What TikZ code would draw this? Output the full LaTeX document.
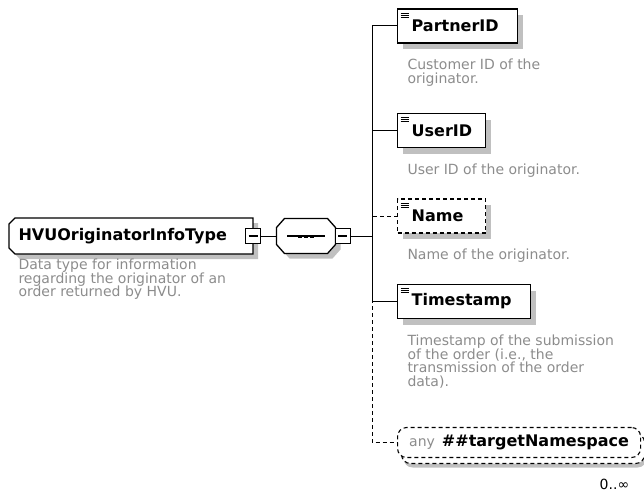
\documentclass[tikz,border=0pt]{standalone}
\usepackage{fontspec}
\setmainfont{DejaVu Sans}
\usepackage{tikz}
\usetikzlibrary{shadows,backgrounds}
\definecolor{desc}{RGB}{140,140,140}
\definecolor{shadowgray}{RGB}{192,192,192}

\begin{document}
\begin{tikzpicture}[x=1pt,y=-1pt,line width=1pt,
                    ddash/.style={dash pattern=on 4pt off 3pt},
                    boxshadow/.style={drop shadow={shadow xshift=5pt,shadow yshift=-6pt,opacity=1,fill=shadowgray}},
                    namefont/.style={font=\fontsize{16}{16}\selectfont\bfseries},
                    elem/.style={draw,fill=white,line width=1.3pt,minimum height=34pt,inner xsep=14pt,inner ysep=0pt,
                                 anchor=west,align=left,namefont,boxshadow,
                                 path picture={\foreach \yy in {4,6,8}
                                   \draw[solid,line width=.9pt] ([xshift=3pt,yshift=-\yy pt]path picture bounding box.north west) -- ++(8pt,0pt);}},
                    note/.style={anchor=north west,inner sep=0pt,align=left,text=desc,font=\fontsize{14}{13.6}\selectfont},
                    pm/.style={draw,fill=white,line width=1pt,minimum size=15pt,inner sep=0pt,
                               path picture={\draw[line width=1.2pt] ([xshift=3pt]path picture bounding box.west) -- ([xshift=-3pt]path picture bounding box.east);}},
                    rootbox/.style={minimum height=35pt,inner xsep=9pt,inner ysep=0pt,anchor=west,align=left,namefont},
                    seqbox/.style={minimum width=58pt,minimum height=34pt,inner sep=0pt},
                    outline/.style={draw,fill=white,line width=1.3pt,
                                    drop shadow={shadow xshift=5pt,shadow yshift=-5pt,opacity=1,fill=shadowgray}},
                    anybox/.style={draw,ddash,fill=white,rounded corners=9pt,line width=1.1pt,minimum width=243pt,minimum height=30pt,
                                   inner xsep=10pt,anchor=west,
                                   drop shadow={shadow xshift=6pt,shadow yshift=-10pt,opacity=1,fill=shadowgray},
                                   copy shadow={shadow xshift=4pt,shadow yshift=-6pt,draw,ddash,line width=1.1pt,fill=white}}]
\useasboundingbox (0,0) rectangle (644,492);

\node[rootbox,text width=225pt] (root) at (9,236) {HVUOriginatorInfoType};
\node[seqbox] (seq) at (306,236) {};
\begin{scope}[on background layer]
\draw[outline] ([xshift=6pt]root.north west) -- (root.north east) -- (root.south east) -- ([xshift=6pt]root.south west)
  -- ([yshift=6pt]root.south west) -- ([yshift=-6pt]root.north west) -- cycle;
\draw[outline] ([xshift=8pt]seq.north west) -- ([xshift=-8pt]seq.north east) -- ([yshift=-9pt]seq.north east)
  -- ([yshift=9pt]seq.south east) -- ([xshift=-8pt]seq.south east) -- ([xshift=8pt]seq.south west)
  -- ([yshift=9pt]seq.south west) -- ([yshift=-9pt]seq.north west) -- cycle;
\end{scope}
\draw[line width=1.2pt] ([xshift=-19pt]seq.center) -- ([xshift=19pt]seq.center);
\foreach \k in {-6,0,6}
  \fill ([xshift=\k pt]seq.center) ++(-2pt,-1.5pt) rectangle ++(4pt,3pt);

\node[pm] (rootm) at (root.east) {};
\node[note] (rootnote) at (18,258.4) {Data type for information\\regarding the originator of an\\order returned by HVU.};
\node[pm,anchor=west] (seqm) at ([xshift=-1pt]seq.east) {};
\coordinate (fork) at (372,236);

\node[elem,text width=92pt] (partner) at (397,26) {PartnerID};
\node[note] (partnernote) at (407,58.4) {Customer ID of the\\originator.};
\node[elem,text width=60pt] (user) at (397,130.5) {UserID};
\node[note] (usernote) at (407,163.4) {User ID of the originator.};
\node[elem,ddash,text width=60pt] (name) at (397,216) {Name};
\node[note] (namenote) at (407,248.4) {Name of the originator.};
\node[elem,text width=105pt] (stamp) at (397,301.5) {Timestamp};
\node[note] (stampnote) at (407,334.4) {Timestamp of the submission\\of the order (i.e., the\\transmission of the order\\data).};

\node[anybox] (anyel) at (397,442.5) {{\fontsize{14}{14}\selectfont\color{desc}any}\hspace{7pt}{\fontsize{16}{16}\selectfont\bfseries\#\#targetNamespace}};
\node[anchor=base east,font=\fontsize{14}{14}\selectfont] (occ) at (633,489) {0..∞};

\draw (rootm) -- (seq);
\draw (seqm) -- (fork);
\draw (fork) |- (partner);
\draw (fork) |- (user);
\draw (fork) |- (stamp);
\draw[ddash] (fork) |- (name);
\draw[ddash] (fork) |- (anyel);
\end{tikzpicture}
\end{document}
